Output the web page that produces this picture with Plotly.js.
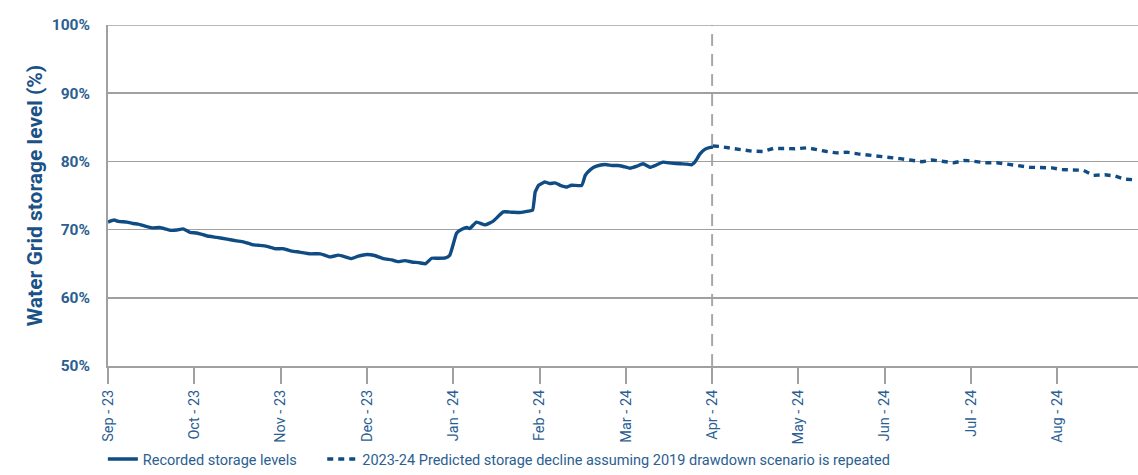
<!DOCTYPE html>
<html>
<head>
<meta charset="utf-8">
<script src="https://cdn.plot.ly/plotly-3.0.1.min.js"></script>
<style>html,body{margin:0;padding:0;background:#fff;}#chart{width:1138px;height:475px;}</style>
</head>
<body>
<div id="chart"></div>
<script>
// Month labels (tick positions are month indices 0..11, starting Sep 2023)
const monthLabels = ["Sep - 23","Oct - 23","Nov - 23","Dec - 23","Jan - 24","Feb - 24","Mar - 24","Apr - 24","May - 24","Jun - 24","Jul - 24","Aug - 24"];

// Recorded storage levels: position in months since 1 Sep 2023, storage %
const recordedMonth = [0.00,0.07,0.12,0.22,0.29,0.35,0.43,0.51,0.60,0.72,0.80,0.87,0.95,1.03,1.14,1.26,1.38,1.49,1.57,1.67,1.74,1.84,1.94,2.03,2.13,2.22,2.34,2.46,2.57,2.67,2.75,2.82,2.90,3.00,3.09,3.19,3.29,3.36,3.44,3.52,3.60,3.68,3.75,3.83,3.91,3.96,4.01,4.04,4.10,4.16,4.19,4.27,4.37,4.46,4.58,4.68,4.77,4.87,4.92,4.95,4.99,5.04,5.06,5.12,5.18,5.24,5.32,5.37,5.49,5.53,5.59,5.66,5.76,5.84,5.91,5.97,6.05,6.13,6.20,6.28,6.34,6.43,6.53,6.63,6.71,6.76,6.80,6.86,6.92,6.98,7.01];
const recordedLevel = [71.1,71.4,71.2,71.1,70.9,70.8,70.5,70.25,70.3,69.9,69.95,70.1,69.6,69.5,69.1,68.85,68.6,68.35,68.2,67.8,67.7,67.55,67.2,67.2,66.85,66.7,66.45,66.45,66.0,66.25,66.0,65.75,66.1,66.35,66.2,65.75,65.55,65.3,65.45,65.25,65.15,65.0,65.8,65.8,65.85,66.25,68.3,69.5,70.05,70.3,70.15,71.1,70.7,71.2,72.6,72.55,72.5,72.7,72.85,75.5,76.5,76.85,77.0,76.75,76.85,76.5,76.25,76.5,76.5,77.95,78.8,79.3,79.55,79.4,79.4,79.25,79.0,79.3,79.65,79.15,79.4,79.9,79.75,79.65,79.6,79.5,79.9,81.1,81.8,82.05,82.1];

// Predicted storage decline (2019 drawdown repeated)
const predictedMonth = [7.01,7.09,7.21,7.34,7.46,7.59,7.71,7.84,7.96,8.10,8.21,8.33,8.44,8.56,8.69,8.81,8.95,9.06,9.18,9.29,9.43,9.55,9.68,9.80,9.93,10.06,10.18,10.30,10.43,10.55,10.68,10.80,10.94,11.05,11.19,11.30,11.42,11.55,11.67,11.78,11.90];
const predictedLevel = [82.25,82.2,81.95,81.7,81.5,81.45,81.9,81.9,81.85,82.0,81.7,81.45,81.25,81.35,81.1,80.95,80.7,80.6,80.4,80.2,79.95,80.2,80.05,79.8,80.15,79.95,79.8,79.8,79.55,79.4,79.15,79.1,79.05,78.8,78.8,78.7,77.95,78.05,77.85,77.4,77.3];

const yTicks = [50,60,70,80,90,100];
const forecastStartMonth = 7;

const lineColor = "#104c84";
const textColor = "#2b5e91";
const gridColor = "#a0a0a0";

const traces = [
  {
    x: recordedMonth, y: recordedLevel, type: "scatter", mode: "lines",
    name: "Recorded storage levels", legend: "legend",
    line: {color: lineColor, width: 3.4, shape: "spline", smoothing: 0.4}
  },
  {
    x: predictedMonth, y: predictedLevel, type: "scatter", mode: "lines",
    name: "2023-24 Predicted storage decline assuming 2019 drawdown scenario is repeated",
    legend: "legend2",
    line: {color: lineColor, width: 3.4, dash: "6px,5px"}
  }
];

const legendFont = {size: 14.5, color: textColor};

const layout = {
  width: 1138, height: 475,
  margin: {l: 108, r: 0, t: 25, b: 106},
  paper_bgcolor: "#ffffff", plot_bgcolor: "#ffffff",
  font: {family: "Roboto, 'DejaVu Sans', sans-serif", color: textColor},
  showlegend: true,
  legend: {
    orientation: "h", x: -0.005, xanchor: "left", y: -0.273, yanchor: "middle",
    font: legendFont, bgcolor: "rgba(0,0,0,0)"
  },
  legend2: {
    orientation: "h", x: 0.208, xanchor: "left", y: -0.273, yanchor: "middle",
    font: legendFont, bgcolor: "rgba(0,0,0,0)"
  },
  xaxis: {
    range: [0, 11.935], fixedrange: true,
    tickmode: "array", tickvals: monthLabels.map((_, i) => i), ticktext: monthLabels,
    tickangle: -90, tickfont: {size: 14.5, color: textColor},
    ticks: "outside", ticklen: 16, tickwidth: 2, tickcolor: gridColor,
    showgrid: false, zeroline: false,
    showline: true, linecolor: gridColor, linewidth: 2
  },
  yaxis: {
    range: [50, 100], fixedrange: true,
    tickmode: "array", tickvals: yTicks, ticktext: yTicks.map(v => v + "%"),
    tickfont: {size: 15.5, color: textColor, weight: "bold"},
    ticks: "", ticklabelstandoff: 13,
    showgrid: true, gridcolor: gridColor, gridwidth: 1.5,
    zeroline: false, showline: true, linecolor: gridColor, linewidth: 2,
    title: {text: "Water Grid storage level (%)", font: {size: 21, color: "#1a5287", weight: "bold"}, standoff: 3}
  },
  shapes: [
    {type: "line", xref: "x", yref: "paper", x0: forecastStartMonth, x1: forecastStartMonth, y0: 0, y1: 1,
     line: {color: "#a8a8a8", width: 2, dash: "12px,8px"}, layer: "below"},
    {type: "line", xref: "paper", yref: "y", x0: 0, x1: 1, y0: 100, y1: 100,
     line: {color: gridColor, width: 1.5}, layer: "below"}
  ]
};

Plotly.newPlot("chart", traces, layout, {displayModeBar: false, staticPlot: true});
</script>
</body>
</html>
